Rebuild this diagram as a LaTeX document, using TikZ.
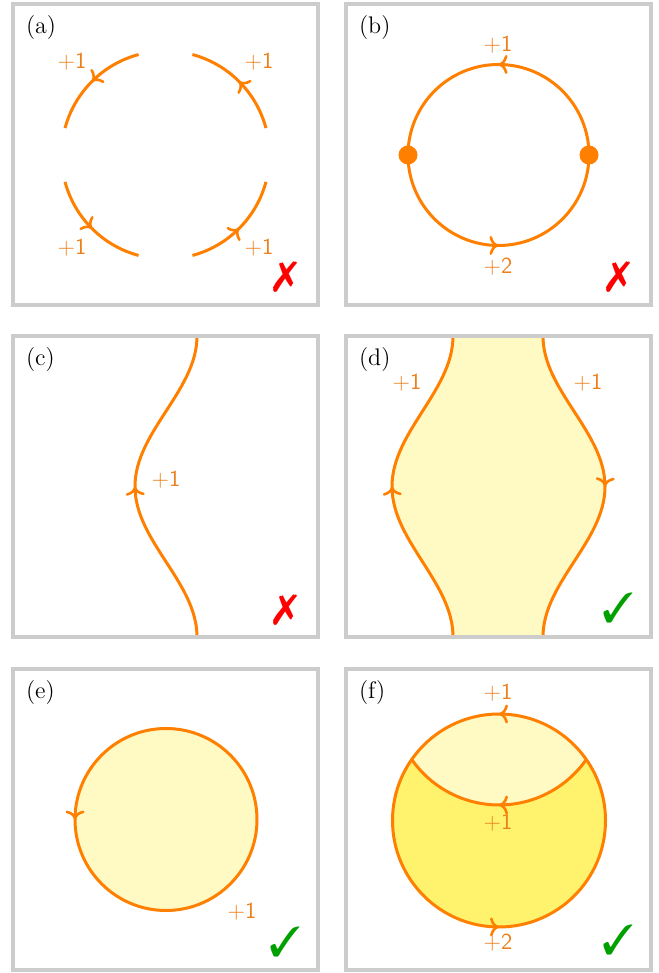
\documentclass[tikz,border=0pt]{standalone}
\usepackage{xcolor}
\usepackage{pifont}
\usetikzlibrary{arrows.meta,decorations.markings}
\definecolor{flow}{HTML}{FF8000}
\definecolor{flowtext}{HTML}{EC7F1A}
\definecolor{frame}{HTML}{CCCCCC}
\definecolor{pale}{HTML}{FFF9C4}
\definecolor{deep}{HTML}{FFF36E}
\definecolor{nogo}{HTML}{FF0000}
\definecolor{okgo}{HTML}{00A000}
\newcommand\flowhead{\arrow{Computer Modern Rightarrow[length=4.5pt,width=9.5pt,line width=1.3pt]}}

\begin{document}
\begin{tikzpicture}[x=0.5pt,y=0.5pt,
  frm/.style={draw=frame,line width=1.6pt},
  wire/.style={draw=flow,line width=1.5pt},
  midarr/.style={postaction={decorate,decoration={markings,mark=at position #1 with {\flowhead}}}},
  twoarr/.style 2 args={postaction={decorate,decoration={markings,mark=at position #1 with {\flowhead},mark=at position #2 with {\flowhead}}}},
  plabel/.style={anchor=west,font=\fontsize{12}{14}\selectfont},
  num/.style={text=flowtext,font=\fontsize{11.5}{13}\sffamily},
  bad/.style={text=nogo,font=\fontsize{21}{21}\selectfont},
  good/.style={text=okgo,font=\fontsize{21}{21}\selectfont}]
\useasboundingbox (0,0) rectangle (658,973);

\begin{scope}[shift={(13,668)}]
  \coordinate (ca) at (152.5,150);
  \foreach \s in {15,105,195,285}
    \draw[wire,midarr=0.5] ([shift={(\s:104)}]ca) arc[start angle=\s,end angle=\s+60,radius=104];
  \node[num] (a1) at (59,243) {+1};
  \node[num] (a2) at (246,243) {+1};
  \node[num] (a3) at (59,57) {+1};
  \node[num] (a4) at (246,57) {+1};
  \node[bad] (xa) at (272,28) {\ding{55}};
\end{scope}

\begin{scope}[shift={(346,668)}]
  \coordinate (cb) at (152.5,150);
  \draw[wire,twoarr={0.25}{0.75}] ([shift={(0:90.5)}]cb) arc[start angle=0,end angle=360,radius=90.5];
  \fill[flow] ([shift={(180:90.5)}]cb) circle[radius=9.5];
  \fill[flow] ([shift={(0:90.5)}]cb) circle[radius=9.5];
  \node[num] (b1) at (152,260) {+1};
  \node[num] (b2) at (152,38) {+2};
  \node[bad] (xb) at (272,28) {\ding{55}};
\end{scope}

\begin{scope}[shift={(13,336)}]
  \draw[wire,midarr=0.5] plot[domain=0:1,samples=61,variable=\t] ({184-31*(1-cos(360*\t))},{301*\t});
  \node[num] (c1) at (153,157) {+1};
  \node[bad] (xc) at (272,27) {\ding{55}};
\end{scope}

\begin{scope}[shift={(346,336)}]
  \fill[pale] plot[domain=0:1,samples=61,variable=\t] ({107-30.5*(1-cos(360*\t))},{301*\t})
    -- plot[domain=0:1,samples=61,variable=\t] ({197+31*(1-cos(360*\t))},{301*(1-\t)}) -- cycle;
  \draw[wire,midarr=0.5] plot[domain=0:1,samples=61,variable=\t] ({107-30.5*(1-cos(360*\t))},{301*\t});
  \draw[wire,midarr=0.5] plot[domain=0:1,samples=61,variable=\t] ({197+31*(1-cos(360*\t))},{301*(1-\t)});
  \node[num] (d1) at (61,254) {+1};
  \node[num] (d2) at (242,254) {+1};
  \node[good] (vd) at (272,29) {\ding{51}};
\end{scope}

\begin{scope}[shift={(13,3)}]
  \coordinate (ce) at (153,150.5);
  \fill[pale] (ce) circle[radius=91];
  \draw[wire,midarr=0.5] ([shift={(0:91)}]ce) arc[start angle=0,end angle=360,radius=91];
  \node[num] (e1) at (229,58) {+1};
  \node[good] (ve) at (272,28) {\ding{51}};
\end{scope}

\begin{scope}[shift={(346,3)}]
  \coordinate (cf) at (153,149.5);
  \coordinate (cu) at (153,271.5);
  \fill[deep] (cf) circle[radius=106.5];
  \fill[pale] ([shift={(34.9:106.5)}]cf) arc[start angle=34.9,end angle=145.1,radius=106.5]
    arc[start angle=214.9,end angle=325.1,radius=106.5] -- cycle;
  \draw[wire,twoarr={0.25}{0.75}] ([shift={(0:106.5)}]cf) arc[start angle=0,end angle=360,radius=106.5];
  \draw[wire,midarr=0.5] ([shift={(-34.9:106.5)}]cu) arc[start angle=-34.9,end angle=-145.1,radius=106.5];
  \node[num] (f1) at (152,277) {+1};
  \node[num] (f2) at (152,147) {+1};
  \node[num] (f3) at (152,27) {+2};
  \node[good] (vf) at (272,30) {\ding{51}};
\end{scope}

\foreach \px/\py/\lab in {13/668/a,346/668/b,13/336/c,346/336/d,13/3/e,346/3/f} {
  \draw[frm] (\px,\py) rectangle ++(305,301);
  \node[plabel] (lab\lab) at (\px+6,\py+277) {(\lab)};
}
\end{tikzpicture}
\end{document}
